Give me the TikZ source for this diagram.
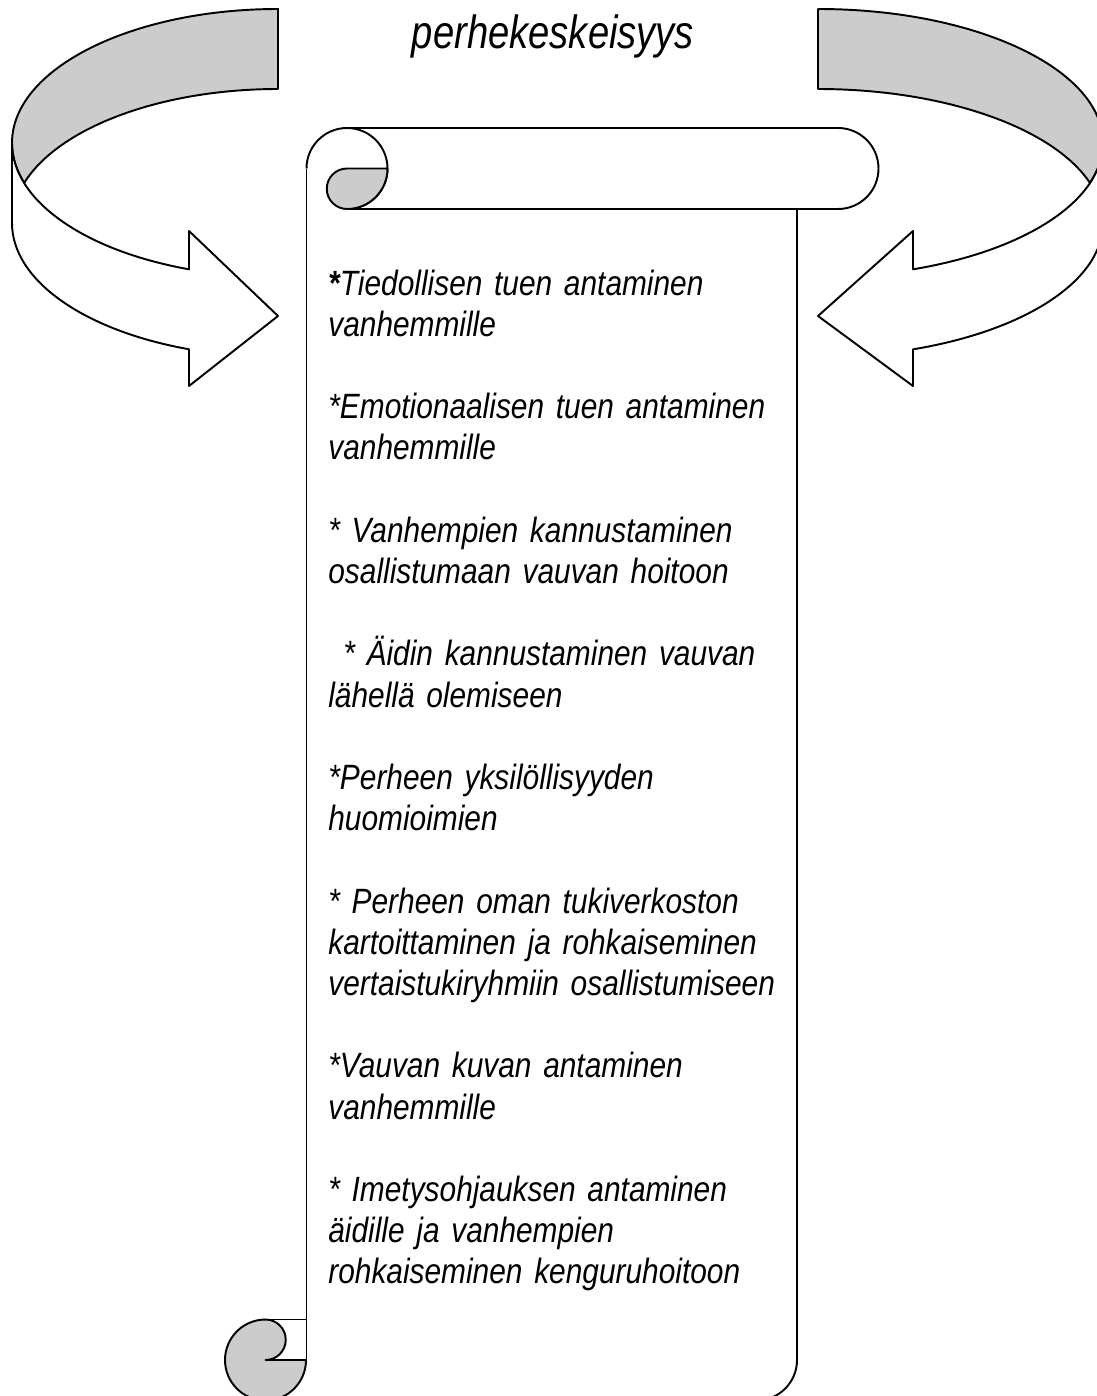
\documentclass[tikz,border=0pt]{standalone}
\usepackage{fontspec}
\setmainfont{Liberation Sans}[FakeStretch=0.85]
\newfontfamily\headfont{Liberation Sans}[FakeStretch=0.82]
\usepackage{xcolor}
\usepackage{tikz}
\usetikzlibrary{positioning}
\definecolor{ribbongray}{HTML}{CCCCCC}
\definecolor{ink}{HTML}{000000}

\begin{document}
\begin{tikzpicture}[
  x=0.02cm, y=-0.02cm,
  ribbon/.style={draw=ink, fill=ribbongray, line width=1.1pt, line join=round},
  face/.style={draw=ink, fill=white, line width=1.1pt, line join=round},
  edge/.style={draw=ink, line width=1.1pt},
  titletext/.style={font=\headfont\fontsize{26.5}{30}\selectfont\itshape, inner sep=0pt, anchor=base},
  itemtext/.style={font=\fontsize{20}{23.45}\selectfont\itshape, text width=12cm, align=left, inner sep=0pt, anchor=base west}
]
  \useasboundingbox (0,0) rectangle (1097,1396);
  \clip (0,0) rectangle (1097,1396);

  % left circular arrow
  \path[ribbon] (12,143) arc[start angle=180, end angle=270, x radius=266, y radius=134]
    -- (278,89) arc[start angle=270, end angle=197.4, x radius=266, y radius=134]
    arc[start angle=162.6, end angle=180, x radius=266, y radius=134] -- cycle;
  \path[face] (12,143) -- (12,223) arc[start angle=180, end angle=109.55, x radius=266, y radius=134]
    -- (189,386) -- (278,316) -- (189,231) -- (189,269.3)
    arc[start angle=109.55, end angle=180, x radius=266, y radius=134] -- cycle;

  % right circular arrow
  \path[ribbon] (1103,143) arc[start angle=360, end angle=270, x radius=285, y radius=134]
    -- (818,89) arc[start angle=270, end angle=342.6, x radius=285, y radius=134]
    arc[start angle=17.4, end angle=0, x radius=285, y radius=134] -- cycle;
  \path[face] (1103,143) -- (1103,223) arc[start angle=0, end angle=70.53, x radius=285, y radius=134]
    -- (913,386) -- (818,316) -- (913,231) -- (913,269.3)
    arc[start angle=70.53, end angle=0, x radius=285, y radius=134] -- cycle;

  % scroll
  \fill[white] (306.5,168.5) rectangle (797,1400.5);
  \path[edge] (306.5,168.5) -- (306.5,1360);
  \path[edge] (797,209) -- (797,1360) arc[start angle=0, end angle=90, radius=40.5] -- (306.5,1400.5);
  \path[face] (306.5,168.5) arc[start angle=180, end angle=270, radius=40.5]
    -- (838,128) arc[start angle=270, end angle=450, radius=40.5] -- (347,209);
  \path[edge] (347,128) arc[start angle=270, end angle=450, radius=40.5];
  \path[ribbon] (347,168.5) -- (387.5,168.5) arc[start angle=0, end angle=90, radius=40.5]
    arc[start angle=90, end angle=270, radius=20.25] -- cycle;
  \path[edge] (265.5,1319.5) -- (306.5,1319.5);
  \path[ribbon] (265.5,1319.5) arc[start angle=270, end angle=0, radius=40.5]
    -- (265.5,1360) arc[start angle=90, end angle=-90, radius=20.25] -- cycle;

  \node[titletext] (title) at (553,49) {perhekeskeisyys};
  \node[itemtext] (items) at (328,295) {%
    \textbf{*}Tiedollisen tuen antaminen\\
    vanhemmille\\[23.45pt]
    *Emotionaalisen tuen antaminen\\
    vanhemmille\\[23.45pt]
    * Vanhempien kannustaminen\\
    osallistumaan vauvan hoitoon\\[23.45pt]
    \hspace*{0.3cm}* Äidin kannustaminen vauvan\\
    lähellä olemiseen\\[23.45pt]
    *Perheen yksilöllisyyden\\
    huomioimien\\[23.45pt]
    * Perheen oman tukiverkoston\\
    kartoittaminen ja rohkaiseminen\\
    vertaistukiryhmiin osallistumiseen\\[23.45pt]
    *Vauvan kuvan antaminen\\
    vanhemmille\\[23.45pt]
    * Imetysohjauksen antaminen\\
    äidille ja vanhempien\\
    rohkaiseminen kenguruhoitoon};
\end{tikzpicture}
\end{document}
